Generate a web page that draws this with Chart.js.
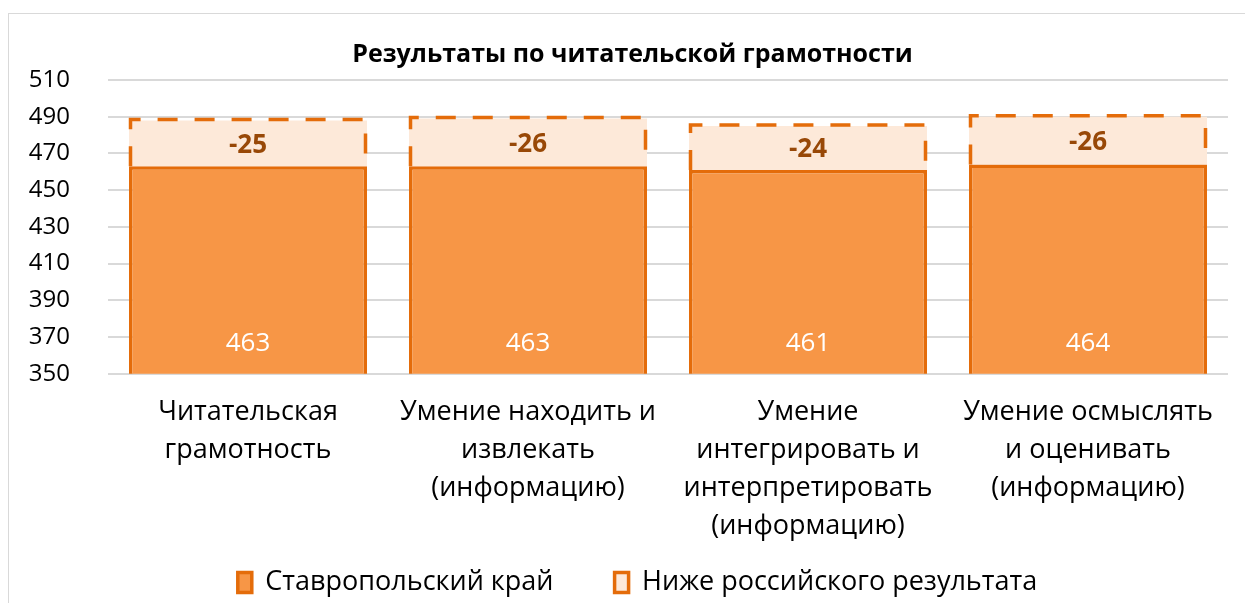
<!DOCTYPE html>
<html>
<head>
<meta charset="utf-8">
<script src="https://cdn.jsdelivr.net/npm/chart.js@4"></script>
<style>
  body { margin: 0; background: #fff; }
  #wrap { position: absolute; left: 8px; top: 13px; width: 1237px; height: 590px;
          border-left: 1px solid #d9d9d9; border-top: 1px solid #d9d9d9; }
</style>
</head>
<body>
<div id="wrap"><canvas id="chart" width="1236" height="589"></canvas></div>
<script>
const categories = [
    ['Читательская', 'грамотность'],
    ['Умение находить и', 'извлекать', '(информацию)'],
    ['Умение', 'интегрировать и', 'интерпретировать', '(информацию)'],
    ['Умение осмыслять', 'и оценивать', '(информацию)']
];
const regionScores = [463, 463, 461, 464];
const gapToRussia = [25, 26, 24, 26];

const fontFamily = '"Open Sans", "Noto Sans", sans-serif';
const darkOrange = '#E46C0A';

// dashed outline + value labels, drawn from the bar elements themselves
const barExtras = {
    id: 'barExtras',
    afterLayout(chart) {
        // nudge title and legend a bit right, like in the original
        if (chart.legend) { chart.legend.left += 19; chart.legend.right += 19; }
        if (chart.titleBlock) { chart.titleBlock.left += 14; chart.titleBlock.right += 14; }
    },
    afterDatasetsDraw(chart) {
        const ctx = chart.ctx;
        const bottom = chart.scales.y.bottom;
        const gapMeta = chart.getDatasetMeta(1);
        ctx.save();
        gapMeta.data.forEach((bar) => {
            const half = bar.width / 2;
            const l = bar.x - half + 1.5, r = bar.x + half - 1.5;
            const t = bar.y - 1, b = bar.base;
            ctx.setLineDash([20, 17]);
            ctx.lineWidth = 3.5;
            ctx.strokeStyle = darkOrange;
            ctx.beginPath();
            ctx.moveTo(l, b);
            ctx.lineTo(l, t);
            ctx.lineTo(r, t);
            ctx.lineTo(r, b);
            ctx.stroke();
        });
        ctx.setLineDash([]);
        ctx.textAlign = 'center';
        ctx.textBaseline = 'middle';
        ctx.font = 'bold 26px ' + fontFamily;
        ctx.fillStyle = '#984807';
        gapMeta.data.forEach((bar, i) => {
            ctx.fillText('-' + gapToRussia[i], bar.x, (bar.y + bar.base) / 2 + 2);
        });
        ctx.font = '26px ' + fontFamily;
        ctx.fillStyle = '#ffffff';
        chart.getDatasetMeta(0).data.forEach((bar, i) => {
            ctx.fillText(String(regionScores[i]), bar.x, bottom - 30);
        });
        ctx.restore();
    }
};

new Chart(document.getElementById('chart').getContext('2d'), {
    type: 'bar',
    data: {
        labels: categories,
        datasets: [
            {
                label: 'Ставропольский край',
                data: regionScores,
                backgroundColor: '#F79646',
                borderColor: darkOrange,
                borderWidth: 3.5,
                borderSkipped: false,
                barPercentage: 0.85,
                categoryPercentage: 1
            },
            {
                label: 'Ниже российского результата',
                data: gapToRussia,
                backgroundColor: '#FDE9D9',
                borderColor: darkOrange,
                borderWidth: 0,
                barPercentage: 0.85,
                categoryPercentage: 1
            }
        ]
    },
    options: {
        responsive: false,
        animation: false,
        layout: { padding: { left: 0, right: 17, top: 4, bottom: -3 } },
        scales: {
            x: {
                stacked: true,
                grid: { display: false },
                border: { display: false },
                ticks: {
                    color: '#000',
                    font: { family: fontFamily, size: 27, lineHeight: 1.4 },
                    maxRotation: 0,
                    padding: 12
                }
            },
            y: {
                stacked: true,
                min: 350,
                max: 510,
                grid: { color: '#d9d9d9', lineWidth: 2, drawTicks: false },
                border: { display: false },
                afterFit(axis) { axis.width = 99; },
                ticks: {
                    stepSize: 20,
                    color: '#000',
                    padding: 38,
                    font: { family: fontFamily, size: 24 }
                }
            }
        },
        plugins: {
            title: {
                display: true,
                text: 'Результаты по читательской грамотности',
                color: '#000',
                font: { family: fontFamily, size: 25, weight: 'bold' },
                padding: { top: 22, bottom: 10 }
            },
            legend: {
                position: 'bottom',
                labels: {
                    color: '#000',
                    boxWidth: 14,
                    boxHeight: 20,
                    font: { family: fontFamily, size: 27 },
                    padding: 12,
                    generateLabels(chart) {
                        const items = Chart.defaults.plugins.legend.labels.generateLabels(chart);
                        items.forEach((it, i) => {
                            it.lineWidth = 3.5;
                            it.strokeStyle = darkOrange;
                            if (i === 0) it.text += '       ';
                        });
                        return items;
                    }
                }
            },
            tooltip: { enabled: false }
        }
    },
    plugins: [barExtras]
});
</script>
</body>
</html>
